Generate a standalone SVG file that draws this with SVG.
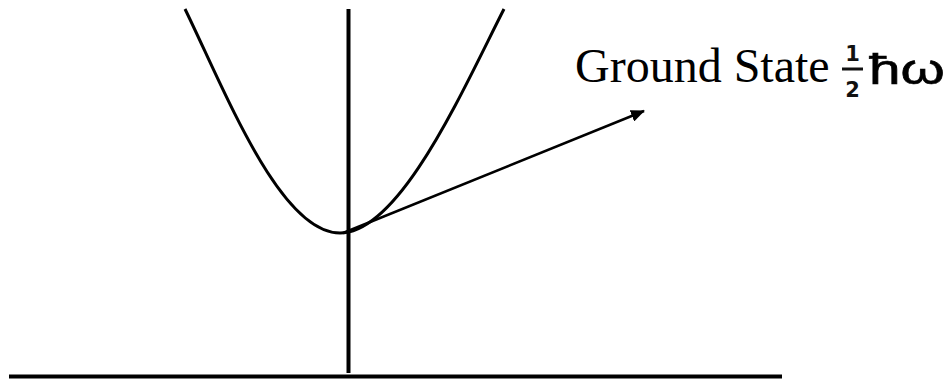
<svg xmlns="http://www.w3.org/2000/svg" width="947" height="379" viewBox="0 0 947 379">
<style>
.ax{stroke:#000;stroke-width:4;fill:none}
.cv{stroke:#000;stroke-width:3;fill:none}
.lbl{font-family:"Liberation Serif","Times New Roman",serif;font-size:48px;fill:#000}
.sym{font-family:"Liberation Sans",Arial,sans-serif;fill:#000}
.frac{font-family:"DejaVu Sans","Liberation Sans",Arial,sans-serif;fill:#111;font-weight:bold;font-size:21px}
</style>
<defs>
<marker id="ah" markerWidth="14" markerHeight="12" refX="13" refY="6" orient="auto" markerUnits="userSpaceOnUse">
<path d="M0,0 L14,6 L0,12 Z" fill="#000"/>
</marker>
</defs>
<g id="axes">
<line class="ax" x1="9" y1="376.5" x2="782" y2="376.5"/>
<line class="ax" x1="348.5" y1="9" x2="348.5" y2="373"/>
</g>
<g id="potential">
<path class="cv" d="M185,9 C225,91 280,233 340,233 C400,233 462.4,90.6 504,9"/>
</g>
<g id="label">
<text class="lbl" x="575" y="82">Ground State</text>
<text class="frac" x="852.5" y="61" text-anchor="middle">1</text>
<line x1="842" y1="69" x2="863" y2="69" stroke="#111" stroke-width="3"/>
<text class="frac" x="852.5" y="97" text-anchor="middle">2</text>
<text class="sym" transform="translate(869,84) scale(1.35,1)" x="0" y="0" font-size="42" stroke="#000" stroke-width="0.6">ħω</text>
</g>
<g id="connectors">
<line x1="343" y1="233" x2="644" y2="111" stroke="#000" stroke-width="2.5" marker-end="url(#ah)"/>
</g>
</svg>
